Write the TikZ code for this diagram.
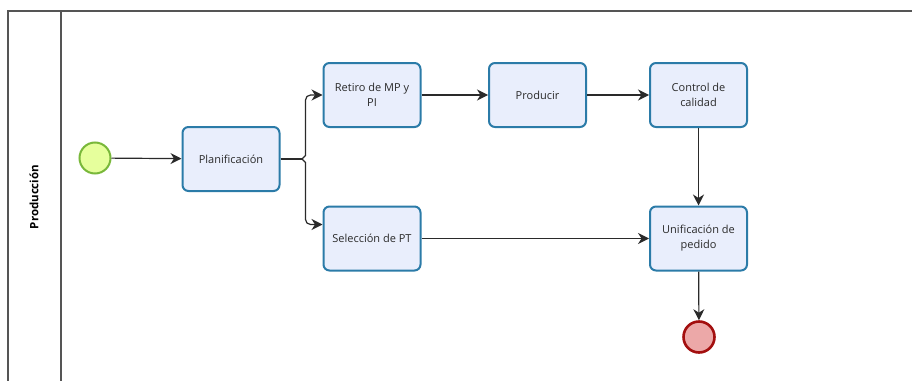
\documentclass[tikz,border=0pt]{standalone}
\usepackage{fontspec}
\setmainfont{Open Sans}
\usetikzlibrary{arrows.meta,calc}
\definecolor{taskfill}{HTML}{E9EEFC}
\definecolor{taskline}{HTML}{2B7BA8}
\definecolor{startfill}{HTML}{E6FF9C}
\definecolor{startline}{HTML}{79B83A}
\definecolor{endfill}{HTML}{ECA8A8}
\definecolor{endline}{HTML}{A30F0F}
\definecolor{ink}{HTML}{2A2A2A}
\definecolor{poolline}{HTML}{555555}
\tikzset{
  task/.style={draw=taskline, line width=2pt, fill=taskfill, rounded corners=6pt,
    minimum width=97pt, minimum height=64pt, align=center, text=ink,
    font=\fontsize{11}{15}\selectfont, inner sep=2pt},
  startev/.style={circle, draw=startline, line width=2pt, fill=startfill, minimum size=31pt, inner sep=0pt},
  endev/.style={circle, draw=endline, line width=2.6pt, fill=endfill, minimum size=31pt, inner sep=0pt},
  flow/.style={draw=ink, line width=1.2pt, -{Stealth[length=11pt,width=11pt,inset=3.5pt]}},
  plainflow/.style={draw=ink, line width=1.2pt},
  pool/.style={draw=poolline, line width=1.4pt}
}
\begin{document}
\begin{tikzpicture}[x=1pt,y=-1pt]
\useasboundingbox (0,0) rectangle (912,380);
% pool and lane
\draw[pool] (912,11) -- (8,11) -- (8,381);
\draw[pool] (61,11) -- (61,381);
\node[rotate=90, font=\fontsize{11.5}{14}\selectfont\bfseries, text=black] (lane) at (34,197) {Producción};
% events and tasks
\node[startev] (start) at (95,158) {};
\node[task] (plan) at (231,159) {Planificación};
\node[task] (retiro) at (372,95) {Retiro de MP y\\PI};
\node[task] (sel) at (372,238.5) {Selección de PT};
\node[task] (prod) at (537.5,95) {Producir};
\node[task] (qc) at (698.5,95) {Control de\\calidad};
\node[task] (unif) at (698.5,238.5) {Unificación de\\pedido};
\node[endev] (end) at (699,337) {};
% sequence flows
\draw[flow] (start) -- (plan);
\coordinate (fk) at (302,159);
\draw[plainflow] (plan.east) -- (fk);
\draw[flow] (fk) -- ++(3.5,-3.5) [rounded corners=5pt] -- (305.5,95) -- (retiro.west);
\draw[flow] (fk) -- ++(3.5,3.5) [rounded corners=5pt] -- (305.5,224.5) -- ($(sel.west)+(0,-14)$);
\draw[flow] (retiro) -- (prod);
\draw[flow] (prod) -- (qc);
\draw[flow] (qc) -- (unif);
\draw[flow] (sel) -- (unif);
\draw[flow] (unif) -- (end);
\end{tikzpicture}
\end{document}
